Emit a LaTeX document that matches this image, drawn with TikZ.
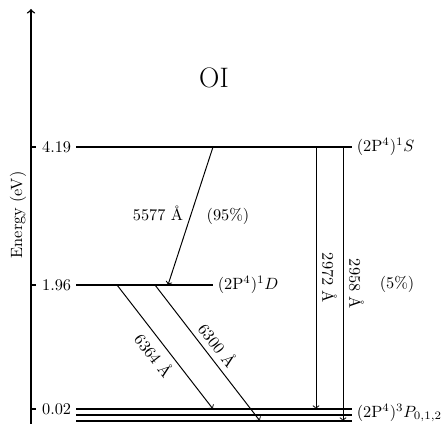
\documentclass[tikz,border=0pt]{standalone}
\begin{document}
\begin{tikzpicture}[x=0.613pt,y=-0.613pt,
  level/.style={line width=0.9pt},
  trans/.style={->,semithick},
  lab/.style={inner sep=2.8pt}]
\useasboundingbox (0,0) rectangle (442,424);
% axis
\coordinate (ax0) at (31,424);
\coordinate (ax1) at (31,9);
\draw[level,->] (ax0) -- (ax1);
\node[rotate=90] (elab) at (18,215) {Energy (eV)};
% title
\node[font=\LARGE] (title) at (214,78) {OI};
% energy labels
\node[lab,anchor=east] (e1) at (76,147) {4.19};
\node[lab,anchor=east] (e2) at (76,285) {1.96};
\node[lab,anchor=east] (e3) at (76,409) {0.02};
\foreach \y in {147,285,409} \draw[level] (31,\y) -- (36,\y);
% state labels
\node[lab,anchor=west] (s1) at (352,147) {$(2\mathrm{P}^4)^1S$};
\node[lab,anchor=west] (s2) at (213,285) {$(2\mathrm{P}^4)^1D$};
\node[lab,anchor=west] (s3) at (352,413) {$(2\mathrm{P}^4)^3P_{0,1,2}$};
% levels
\draw[level] (e1.east) -- (e1.east -| s1.west);
\draw[level] (e2.east) -- (e2.east -| s2.west);
\draw[level] (e3.east) -- (e3.east -| s3.west);
\coordinate (b2l) at (76,415);
\coordinate (b3l) at (76,421);
\draw[level] (b2l) -- (b2l -| s3.west);
\draw[level] (b3l) -- (b3l -| s3.west);
% transitions
\coordinate (a1s) at (213,147); \coordinate (a1e) at (168,285);
\draw[trans] (a1s) -- (a1e);
\node (l5577) at (158,213) {5577 \AA};
\node (p95) at (228,216) {(95\%)};
\coordinate (a2s) at (316,147); \coordinate (a2e) at (316,409);
\draw[trans] (a2s) -- node[above,sloped] (l2972) {2972 \AA} (a2e);
\coordinate (a3s) at (343,147); \coordinate (a3e) at (343,421);
\draw[trans] (a3s) -- node[above,sloped] (l2958) {2958 \AA} (a3e);
\node (p5) at (397,284) {(5\%)};
\coordinate (a4s) at (117,285); \coordinate (a4e) at (213,409);
\draw[trans] (a4s) -- node[below,sloped] (l6364) {6364 \AA} (a4e);
\coordinate (a5s) at (155,285); \coordinate (a5e) at (260,421);
\draw[trans] (a5s) -- node[above,sloped] (l6300) {6300 \AA} (a5e);
\end{tikzpicture}
\end{document}
